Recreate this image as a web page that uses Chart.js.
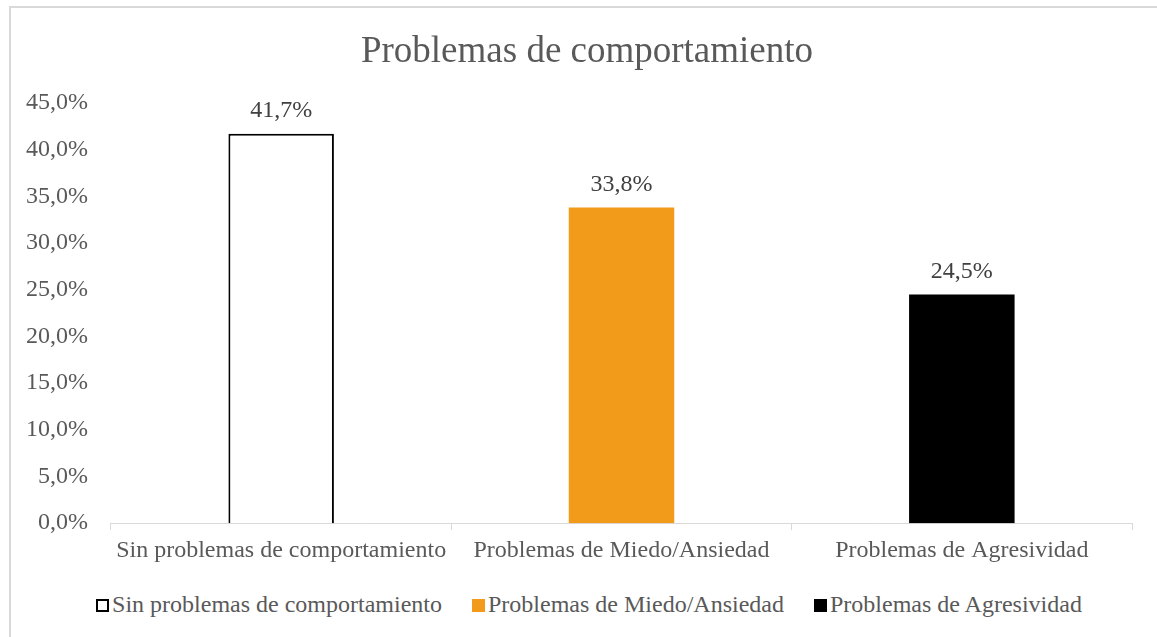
<!DOCTYPE html>
<html>
<head>
<meta charset="utf-8">
<script src="https://cdn.jsdelivr.net/npm/chart.js@4.4.1/dist/chart.umd.min.js"></script>
<style>
    body { margin: 0; background: #fff; overflow: hidden; }
    #frame {
        position: absolute; left: 9px; top: 6px;
        width: 1160px; height: 640px;
        border-left: 2px solid #d9d9d9; border-top: 2px solid #d9d9d9;
    }
    #title {
        position: absolute; left: 0; top: 20px; width: 1152px; text-align: center;
        font-family: "Liberation Serif", "Times New Roman", serif;
        font-size: 37px; line-height: 44px; color: #595959;
    }
    #chartBox { position: relative; width: 1156px; height: 563px; }
    #legend {
        position: absolute; left: 0; top: 582px; width: 1156px;
        display: flex; justify-content: center; align-items: center;
        font-family: "Liberation Serif", "Times New Roman", serif;
        font-size: 24px; color: #595959; line-height: 28px;
    }
    .item { display: flex; align-items: center; margin: 0 15px; white-space: nowrap; }
    .swatch { width: 13px; height: 13px; margin-right: 3px; margin-top: 3px; box-sizing: border-box; }
</style>
</head>
<body>
<div id="frame">
    <div id="chartBox"><canvas id="behaviourChart"></canvas></div>
    <div id="title"></div>
    <div id="legend"></div>
</div>
<script>
const chartTitle = 'Problemas de comportamiento';
const categories = ['Sin problemas de comportamiento', 'Problemas de Miedo/Ansiedad', 'Problemas de Agresividad'];
const percentages = [41.7, 33.8, 24.5];
const fillColors = ['#ffffff', '#F29B1A', '#000000'];
const edgeColors = ['#000000', '#F29B1A', '#000000'];
const yTicks = [0, 5, 10, 15, 20, 25, 30, 35, 40, 45];

const serif = '"Liberation Serif", "Times New Roman", serif';
const textGrey = '#595959';

function formatPct(v, decimals) {
    return v.toFixed(decimals).replace('.', ',') + '%';
}

// labels on top of each bar
const valueLabels = {
    id: 'valueLabels',
    afterDatasetsDraw(chart) {
        const ctx = chart.ctx;
        const meta = chart.getDatasetMeta(0);
        ctx.save();
        ctx.font = '24px ' + serif;
        ctx.fillStyle = '#404040';
        ctx.textAlign = 'center';
        ctx.textBaseline = 'middle';
        meta.data.forEach((bar, i) => {
            ctx.fillText(formatPct(percentages[i], 1), bar.x, bar.y - 23);
        });
        ctx.restore();
    }
};

// legend built as html so the box/text gap can be tight like the original
function buildLegend() {
    const legend = document.getElementById('legend');
    legend.innerHTML = '';
    categories.forEach((c, i) => {
        const item = document.createElement('div');
        item.className = 'item';
        const sw = document.createElement('span');
        sw.className = 'swatch';
        sw.style.background = fillColors[i];
        if (i === 0) sw.style.border = '2px solid #000';
        const label = document.createElement('span');
        label.textContent = c;
        item.appendChild(sw);
        item.appendChild(label);
        legend.appendChild(item);
    });
}

// title centred on the whole frame, not on the plot area
document.getElementById('title').textContent = chartTitle;

const ctx = document.getElementById('behaviourChart').getContext('2d');
new Chart(ctx, {
    type: 'bar',
    data: {
        labels: categories,
        datasets: [{
            data: percentages,
            backgroundColor: fillColors,
            borderColor: edgeColors,
            borderWidth: [2, 0, 0],
            categoryPercentage: 1,
            barPercentage: 0.31
        }]
    },
    options: {
        responsive: true,
        maintainAspectRatio: false,
        animation: false,
        layout: { padding: { top: 95, left: 0, right: 35, bottom: 0 } },
        plugins: {
            title: { display: false },
            legend: { display: false },
            tooltip: { enabled: false }
        },
        scales: {
            x: {
                offset: true,
                grid: { display: true, offset: true, drawOnChartArea: false, drawTicks: true, tickLength: 7, color: '#d9d9d9' },
                border: { display: true, color: '#d9d9d9', width: 1 },
                ticks: { color: textGrey, font: { family: serif, size: 24 }, padding: 6, maxRotation: 0 }
            },
            y: {
                min: 0,
                max: 45,
                afterBuildTicks: axis => { axis.ticks = yTicks.map(v => ({ value: v })); },
                grid: { display: false },
                border: { display: false },
                ticks: {
                    color: textGrey,
                    font: { family: serif, size: 24 },
                    padding: 15,
                    callback: v => formatPct(v, 1)
                }
            }
        }
    },
    plugins: [valueLabels]
});
buildLegend();
</script>
</body>
</html>
